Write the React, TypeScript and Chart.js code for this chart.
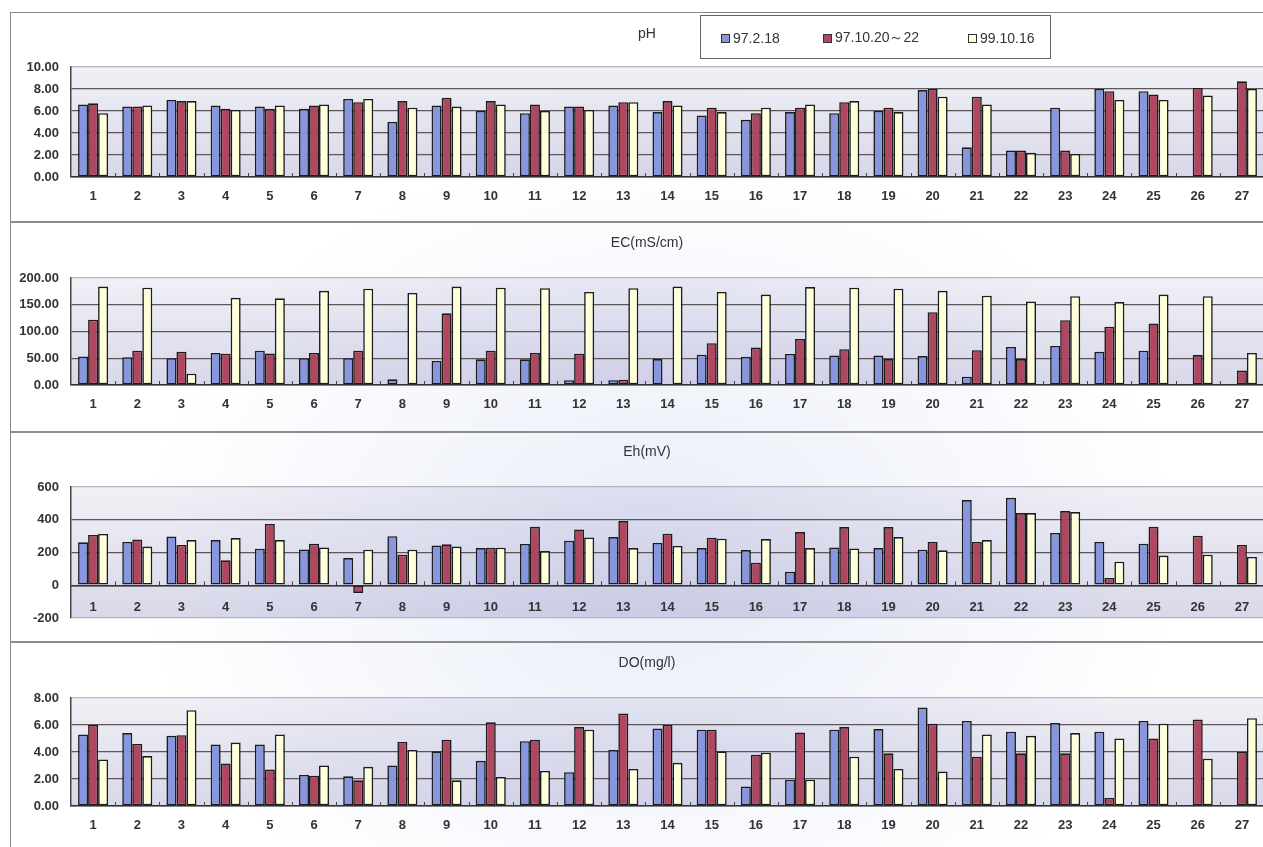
import React, { useEffect, useRef } from "react";
import { Chart, registerables } from "chart.js";
Chart.register(...registerables);

const categories = ["1","2","3","4","5","6","7","8","9","10","11","12","13","14","15","16","17","18","19","20","21","22","23","24","25","26","27"];
const seriesLabels = ["97.2.18", "97.10.20～22", "99.10.16"];

const phFeb97 = [6.6,6.4,7.0,6.5,6.4,6.2,7.1,5.0,6.5,6.0,5.8,6.4,6.5,5.9,5.6,5.2,5.9,5.8,6.0,7.9,2.7,2.4,6.3,8.0,7.8,null,null];
const phOct97 = [6.7,6.4,6.9,6.2,6.2,6.5,6.8,6.9,7.2,6.9,6.6,6.4,6.8,6.9,6.3,5.8,6.3,6.8,6.3,8.0,7.3,2.4,2.4,7.8,7.5,8.1,8.7];
const phOct99 = [5.8,6.5,6.9,6.1,6.5,6.6,7.1,6.3,6.4,6.6,6.0,6.1,6.8,6.5,5.9,6.3,6.6,6.9,5.9,7.3,6.6,2.2,2.1,7.0,7.0,7.4,8.0];

const ecFeb97 = [53.5,52,50,60,64,50,50,10.6,45,48,48,9,9,48.5,56.7,53,58,55,55,54,15.5,71,73,62,64,null,null];
const ecOct97 = [122,64,62,58.5,59,60,64,null,134,64,60,58.5,10,null,78,70,86,67,48.5,136,65,48.5,121,109,115,56,27];
const ecOct99 = [184,182,21,163,162,176,180,172,184,182,181,174,181,184,174,169,183,182,180,176,167,156,166,155,169,166,60];

const ehFeb97 = [262,264,298,276,223,219,166,300,242,227,252,272,294,258,227,215,83,231,227,217,520,534,319,264,254,null,null];
const ehOct97 = [307,280,246,152,374,254,-47,187,250,229,357,341,392,315,290,138,325,355,355,264,264,441,453,45,357,303,246];
const ehOct99 = [313,236,276,288,276,231,217,217,236,229,209,292,227,240,284,282,227,225,294,213,276,441,447,144,181,187,173];

const doFeb97 = [5.3,5.4,5.2,4.55,4.55,2.3,2.2,3.0,4.05,3.35,4.8,2.5,4.15,5.75,5.65,1.45,1.95,5.65,5.7,7.3,6.3,5.5,6.15,5.5,6.3,null,null];
const doOct97 = [6.0,4.6,5.25,3.15,2.7,2.25,1.9,4.75,4.9,6.2,4.9,5.85,6.85,6.0,5.65,3.8,5.45,5.85,3.9,6.1,3.65,3.9,3.9,0.6,5.0,6.4,4.0];
const doOct99 = [3.45,3.7,7.1,4.7,5.3,3.0,2.9,4.15,1.9,2.15,2.6,5.65,2.75,3.2,4.05,3.95,1.95,3.65,2.75,2.55,5.3,5.2,5.4,5.0,6.1,3.5,6.5];

const COLORS = ["#8796de", "#b0465f", "#ffffda"];
const FONT = '"Liberation Sans", Arial, sans-serif';

type PanelCfg = {
  title: string;
  series: (number | null)[][];
  min: number; max: number; step: number; decimals: number;
  top: number; height: number; plotTop: number; plotBottom: number; titleY: number;
  axisAtZero?: boolean;
};

const panels: PanelCfg[] = [
  { title: "pH", series: [phFeb97, phOct97, phOct99], min: 0, max: 10, step: 2, decimals: 2, top: 12, height: 210, plotTop: 67, plotBottom: 177, titleY: 34 },
  { title: "EC(mS/cm)", series: [ecFeb97, ecOct97, ecOct99], min: 0, max: 200, step: 50, decimals: 2, top: 222, height: 210, plotTop: 278, plotBottom: 385, titleY: 243 },
  { title: "Eh(mV)", series: [ehFeb97, ehOct97, ehOct99], min: -200, max: 600, step: 200, decimals: 0, top: 432, height: 210, plotTop: 487, plotBottom: 618, titleY: 452, axisAtZero: true },
  { title: "DO(mg/l)", series: [doFeb97, doOct97, doOct99], min: 0, max: 8, step: 2, decimals: 2, top: 642, height: 215, plotTop: 698, plotBottom: 806, titleY: 663 },
];

const CANVAS_LEFT = 10;
const CANVAS_W = 1280;

function Panel({ cfg }: { cfg: PanelCfg }) {
  const ref = useRef<HTMLCanvasElement>(null);
  useEffect(() => {
    const canvas = ref.current!;
    const xAxisH = cfg.top + cfg.height - cfg.plotBottom;
    const bgPlugin = {
      id: "bg",
      beforeDraw(chart: any) {
        const { ctx, chartArea } = chart;
        const { left, top, right, bottom } = chartArea;
        ctx.save();
        const g = ctx.createLinearGradient(0, top, 0, bottom);
        g.addColorStop(0, "#f0f0f6");
        g.addColorStop(1, "#d8d8ea");
        ctx.fillStyle = g;
        ctx.fillRect(left, top, right - left, bottom - top);
        const r = ctx.createRadialGradient(640, 560 - cfg.top, 40, 640, 560 - cfg.top, 480);
        r.addColorStop(0, "rgba(150,160,215,0.22)");
        r.addColorStop(1, "rgba(150,160,215,0)");
        ctx.fillStyle = r;
        ctx.fillRect(left, top, right - left, bottom - top);
        ctx.restore();
      },
      afterDatasetsDraw(chart: any) {
        const { ctx, chartArea, scales } = chart;
        const yz = scales.y.getPixelForValue(0);
        const n = categories.length;
        const w = (chartArea.right - chartArea.left) / n;
        ctx.save();
        ctx.strokeStyle = "#444";
        ctx.lineWidth = 1;
        ctx.beginPath();
        for (let i = 1; i < n; i++) {
          const x = Math.round(chartArea.left + i * w) + 0.5;
          ctx.moveTo(x, yz);
          ctx.lineTo(x, yz - 4);
        }
        ctx.stroke();
        ctx.restore();
      },
      afterDraw(chart: any) {
        const { ctx } = chart;
        ctx.save();
        ctx.fillStyle = "#333";
        ctx.font = `14px ${FONT}`;
        ctx.textAlign = "center";
        ctx.textBaseline = "middle";
        ctx.fillText(cfg.title, 647 - CANVAS_LEFT, cfg.titleY - cfg.top);
        ctx.restore();
      },
    };
    const chart = new Chart(canvas, {
      type: "bar",
      data: {
        labels: categories,
        datasets: cfg.series.map((d, i) => ({
          label: seriesLabels[i],
          data: d,
          backgroundColor: COLORS[i],
          borderColor: "#1c1c1c",
          borderWidth: 1.6,
          borderSkipped: false,
          categoryPercentage: 0.68,
          barPercentage: 1.0,
        })),
      },
      options: {
        responsive: false,
        animation: false,
        maintainAspectRatio: false,
        layout: {
          padding: {
            top: cfg.plotTop - cfg.top,
            left: 0,
            right: CANVAS_W - (1264 - CANVAS_LEFT),
            bottom: cfg.axisAtZero ? cfg.top + cfg.height - cfg.plotBottom : 0,
          },
        },
        plugins: { legend: { display: false }, title: { display: false }, tooltip: { enabled: false } },
        scales: {
          x: {
            type: "category",
            position: cfg.axisAtZero ? ({ y: 0 } as any) : "bottom",
            offset: true,
            grid: { display: false, drawTicks: false },
            border: { display: true, color: "#333", width: 1.5 },
            ticks: {
              color: "#333",
              font: { family: FONT, size: 13, weight: "bold" },
              padding: cfg.axisAtZero ? 14 : 12,
              maxRotation: 0,
              autoSkip: false,
            },
            afterFit: (s: any) => { if (!cfg.axisAtZero) s.height = xAxisH; },
          },
          y: {
            min: cfg.min,
            max: cfg.max,
            grid: {
              drawTicks: false,
              lineWidth: 1.3,
              color: (c: any) => {
                const v = c.tick ? c.tick.value : 0;
                if (v === cfg.max) return "#b4b4be";
                if (v === cfg.min && cfg.min < 0) return "#b4b4be";
                return "#5e5656";
              },
            },
            border: { display: true, color: "#444", width: 1.5 },
            ticks: {
              stepSize: cfg.step,
              color: "#333",
              padding: 12,
              font: { family: FONT, size: 13, weight: "bold" },
              callback: (v: any) => Number(v).toFixed(cfg.decimals),
            },
            afterFit: (s: any) => { s.width = 71 - CANVAS_LEFT; },
          },
        },
      },
      plugins: [bgPlugin],
    } as any);
    return () => chart.destroy();
  }, [cfg]);
  return (
    <canvas
      ref={ref}
      width={CANVAS_W}
      height={cfg.height}
      style={{ position: "absolute", left: CANVAS_LEFT, top: cfg.top, width: CANVAS_W, height: cfg.height }}
    />
  );
}

function Legend() {
  const item = (i: number, left: number) => (
    <div key={i} style={{ position: "absolute", left, top: 0, height: 44, display: "flex", alignItems: "center" }}>
      <span style={{ display: "inline-block", width: 7, height: 7, background: COLORS[i], border: "1px solid #333", marginRight: 3 }} />
      <span style={{ font: `14px ${FONT}`, color: "#333", whiteSpace: "nowrap" }}>{seriesLabels[i]}</span>
    </div>
  );
  return (
    <div style={{ position: "absolute", left: 700, top: 15, width: 351, height: 44, border: "1px solid #666", background: "#fff", boxSizing: "border-box" }}>
      {item(0, 20)}
      {item(1, 122)}
      {item(2, 267)}
    </div>
  );
}

export default function App() {
  return (
    <div style={{ position: "fixed", left: 0, top: 0, width: 1263, height: 847, overflow: "hidden", background: "#fff" }}>
      <div style={{ position: "absolute", left: 0, top: 0, width: 1263, height: 847, background: "radial-gradient(ellipse 520px 420px at 660px 560px, rgba(205,215,240,0.45), rgba(205,215,240,0))" }} />
      <div style={{ position: "absolute", left: 10, top: 12, width: 1300, height: 900, border: "1px solid #888", boxSizing: "border-box" }} />
      {[222, 432, 642].map((y) => (
        <div key={y} style={{ position: "absolute", left: 10, top: y - 1, width: 1300, height: 2, background: "#8c8c8c" }} />
      ))}
      {panels.map((p) => (
        <Panel key={p.title} cfg={p} />
      ))}
      <Legend />
    </div>
  );
}
